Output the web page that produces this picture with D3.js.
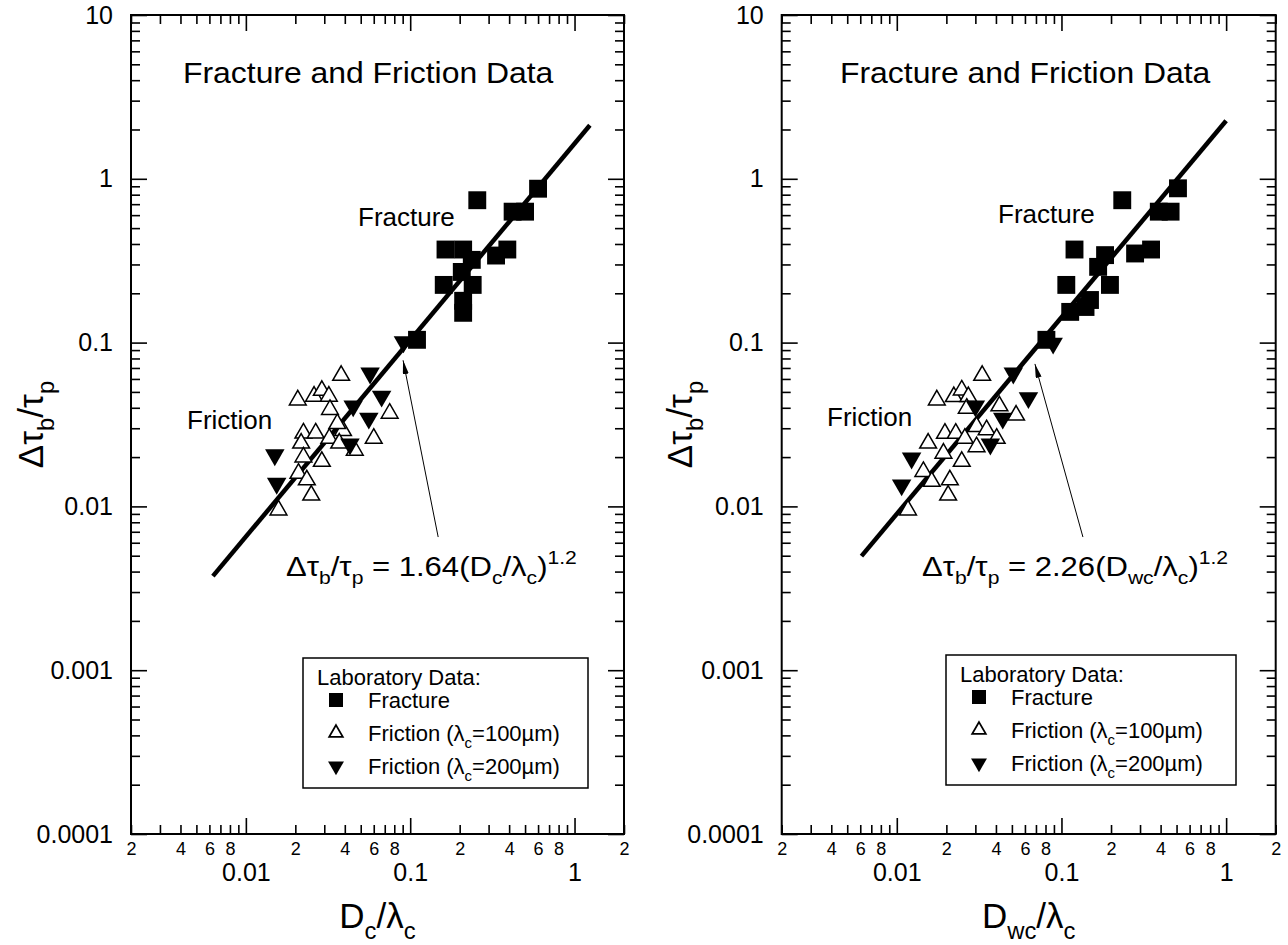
<!DOCTYPE html>
<html><head><meta charset="utf-8">
<script src="https://cdn.jsdelivr.net/npm/d3@7"></script>
<style>
body{margin:0;background:#fff}
svg text{font-family:"Liberation Sans",Arial,Helvetica,sans-serif;fill:#000}
</style></head><body>
<svg id="c" width="1288" height="945"></svg>
<script>
// ---------- data ----------
const xMajorTicks = [0.01, 0.1, 1];
const xMajorLabels = ["0.01", "0.1", "1"];
const xDecades = [0.001, 0.01, 0.1, 1];
const yDecades = [0.0001, 0.001, 0.01, 0.1, 1];
const minorDigits = [2, 3, 4, 5, 6, 7, 8, 9];
const minorLabelDigits = [2, 4, 6, 8];
const yMajorTicks = [0.0001, 0.001, 0.01, 0.1, 1, 10];
const yMajorLabels = ["0.0001", "0.001", "0.01", "0.1", "1", "10"];

// left panel (Dc/λc)
const leftFractureX = [0.60, 0.256, 0.42, 0.50, 0.164, 0.21, 0.237, 0.333, 0.39, 0.206, 0.16, 0.24, 0.21, 0.21, 0.11];
const leftFractureY = [0.87, 0.74, 0.63, 0.63, 0.37, 0.37, 0.32, 0.34, 0.37, 0.27, 0.225, 0.225, 0.18, 0.152, 0.104];
const leftFric100X = [0.038, 0.0207, 0.026, 0.029, 0.032, 0.0325, 0.075, 0.060, 0.0224, 0.0266, 0.0322, 0.039, 0.0217, 0.037, 0.046, 0.029, 0.0224, 0.0209, 0.0235, 0.025, 0.0158, 0.036];
const leftFric100Y = [0.063, 0.0446, 0.047, 0.051, 0.047, 0.039, 0.037, 0.026, 0.028, 0.028, 0.026, 0.029, 0.0243, 0.0243, 0.022, 0.0188, 0.020, 0.0159, 0.0145, 0.0117, 0.0095, 0.032];
const leftFric200X = [0.091, 0.057, 0.067, 0.045, 0.056, 0.043, 0.015, 0.0154];
const leftFric200Y = [0.101, 0.065, 0.047, 0.041, 0.0345, 0.024, 0.0206, 0.0138];
const leftFit = {coef: 1.64, exp: 1.2, from: 0.0063, to: 1.24};
const leftArrow = {tail: [0.148, 0.0065], tip: [0.0905, 0.078]};

// right panel (Dwc/λc)
const rightFractureX = [0.51, 0.234, 0.39, 0.46, 0.12, 0.184, 0.167, 0.28, 0.35, 0.107, 0.197, 0.149, 0.113, 0.14, 0.081];
const rightFractureY = [0.875, 0.74, 0.63, 0.63, 0.37, 0.342, 0.29, 0.35, 0.37, 0.225, 0.225, 0.182, 0.154, 0.165, 0.104];
const rightFric100X = [0.033, 0.0175, 0.0222, 0.0248, 0.0272, 0.0266, 0.042, 0.053, 0.0155, 0.0196, 0.0228, 0.0259, 0.0305, 0.0351, 0.0404, 0.0305, 0.0192, 0.0248, 0.0145, 0.0163, 0.021, 0.0205, 0.0117];
const rightFric100Y = [0.063, 0.0446, 0.0467, 0.0513, 0.0467, 0.0397, 0.041, 0.036, 0.0243, 0.0279, 0.0279, 0.026, 0.0307, 0.0293, 0.026, 0.0231, 0.0211, 0.0188, 0.0163, 0.0142, 0.0145, 0.0117, 0.0095];
const rightFric200X = [0.089, 0.051, 0.063, 0.030, 0.044, 0.037, 0.0123, 0.0107];
const rightFric200Y = [0.099, 0.065, 0.046, 0.041, 0.0345, 0.024, 0.0197, 0.0135];
const rightFit = {coef: 2.26, exp: 1.2, from: 0.0061, to: 1.0};
const rightArrow = {tail: [0.135, 0.0065], tip: [0.069, 0.0741]};

const titleText = "Fracture and Friction Data";
const legendTitle = "Laboratory Data:";

// ---------- drawing ----------
const svg = d3.select("#c");
const zip = (xs, ys) => xs.map((x, i) => [x, ys[i]]);

function rich(t, parts, fs) {
  let shift = 0;
  parts.forEach(([s, kind]) => {
    const target = kind === "sub" ? 0.3 * fs : kind === "sup" ? -0.45 * fs : 0;
    t.append("tspan").attr("dy", target - shift)
      .attr("font-size", kind === "n" ? fs : 0.68 * fs).text(s);
    shift = target;
  });
}

const xMinors = [];
xDecades.forEach(d => minorDigits.forEach(m => { const v = +(m * d).toPrecision(6); if (v >= 0.002 - 1e-9 && v <= 2 + 1e-9) xMinors.push(v); }));
const yMinors = [];
yDecades.forEach(d => minorDigits.forEach(m => yMinors.push(+(m * d).toPrecision(6))));

const panels = [
  {x0: 131, x1: 624, sub: "c", coefLabel: "1.64",
   frac: zip(leftFractureX, leftFractureY), f100: zip(leftFric100X, leftFric100Y), f200: zip(leftFric200X, leftFric200Y),
   fit: leftFit, arrow: leftArrow,
   yTitleX: 43, titleX: 183, fracLbl: [358, 226], fricLbl: [187, 429], eq: [286, 576],
   legend: {x: 303, y: 658, w: 285, h: 130}},
  {x0: 781.7, x1: 1275.7, sub: "wc", coefLabel: "2.26",
   frac: zip(rightFractureX, rightFractureY), f100: zip(rightFric100X, rightFric100Y), f200: zip(rightFric200X, rightFric200Y),
   fit: rightFit, arrow: rightArrow,
   yTitleX: 692, titleX: 840, fracLbl: [998, 223], fricLbl: [827, 426], eq: [922, 576],
   legend: {x: 946, y: 655, w: 290, h: 130}}
];
const plotTop = 15, plotBottom = 834;

const defs = svg.append("defs");
defs.append("marker").attr("id", "ah").attr("viewBox", "0 0 14 6")
  .attr("refX", 14).attr("refY", 3).attr("markerWidth", 14).attr("markerHeight", 6)
  .attr("markerUnits", "userSpaceOnUse").attr("orient", "auto")
  .append("path").attr("d", "M0,0L14,3L0,6Z").attr("fill", "#000");

panels.forEach(p => {
  const x = d3.scaleLog().domain([0.002, 2]).range([p.x0, p.x1]);
  const y = d3.scaleLog().domain([0.0001, 10]).range([plotBottom, plotTop]);
  const g = svg.append("g");

  function styleAxis(sel, fs) {
    sel.select(".domain").remove();
    sel.selectAll(".tick line").attr("stroke", "#000").attr("stroke-width", 1.6);
    sel.selectAll("text").attr("font-size", fs).attr("font-family", null).attr("fill", "#000");
  }
  // bottom
  g.append("g").attr("transform", `translate(0,${plotBottom})`)
    .call(d3.axisBottom(x).tickValues(xMinors).tickSizeInner(-9).tickSizeOuter(0).tickPadding(8)
      .tickFormat(d => { const m = Math.round(d / Math.pow(10, Math.floor(Math.log10(d) + 1e-9))); return minorLabelDigits.includes(m) ? String(m) : ""; }))
    .call(s => styleAxis(s, 18));
  g.append("g").attr("transform", `translate(0,${plotBottom})`)
    .call(d3.axisBottom(x).tickValues(xMajorTicks).tickSizeInner(-16).tickSizeOuter(0).tickPadding(29)
      .tickFormat((d, i) => xMajorLabels[i]))
    .call(s => styleAxis(s, 25));
  // top
  g.append("g").attr("transform", `translate(0,${plotTop})`)
    .call(d3.axisTop(x).tickValues(xMinors).tickSizeInner(-9).tickSizeOuter(0).tickFormat(""))
    .call(s => styleAxis(s, 10));
  g.append("g").attr("transform", `translate(0,${plotTop})`)
    .call(d3.axisTop(x).tickValues(xMajorTicks).tickSizeInner(-16).tickSizeOuter(0).tickFormat(""))
    .call(s => styleAxis(s, 10));
  // left
  g.append("g").attr("transform", `translate(${p.x0},0)`)
    .call(d3.axisLeft(y).tickValues(yMinors).tickSizeInner(-9).tickSizeOuter(0).tickFormat(""))
    .call(s => styleAxis(s, 10));
  g.append("g").attr("transform", `translate(${p.x0},0)`)
    .call(d3.axisLeft(y).tickValues(yMajorTicks).tickSizeInner(-16).tickSizeOuter(0).tickPadding(18)
      .tickFormat((d, i) => yMajorLabels[i]))
    .call(s => styleAxis(s, 25));
  // right
  g.append("g").attr("transform", `translate(${p.x1},0)`)
    .call(d3.axisRight(y).tickValues(yMinors).tickSizeInner(-9).tickSizeOuter(0).tickFormat(""))
    .call(s => styleAxis(s, 10));
  g.append("g").attr("transform", `translate(${p.x1},0)`)
    .call(d3.axisRight(y).tickValues(yMajorTicks).tickSizeInner(-16).tickSizeOuter(0).tickFormat(""))
    .call(s => styleAxis(s, 10));

  // frame
  g.append("rect").attr("x", p.x0).attr("y", plotTop).attr("width", p.x1 - p.x0).attr("height", plotBottom - plotTop)
    .attr("fill", "none").attr("stroke", "#000").attr("stroke-width", 2);

  // axis titles
  const xt = g.append("text").attr("x", (p.x0 + p.x1) / 2).attr("y", 928).attr("text-anchor", "middle").attr("font-size", 35);
  rich(xt, [["D", "n"], [p.sub, "sub"], ["/λ", "n"], ["c", "sub"]], 35);
  const yt = g.append("text").attr("transform", `translate(${p.yTitleX},${(plotTop + plotBottom) / 2}) rotate(-90)`)
    .attr("text-anchor", "middle").attr("font-size", 35);
  rich(yt, [["Δτ", "n"], ["b", "sub"], ["/τ", "n"], ["p", "sub"]], 35);

  // plot title & labels
  g.append("g").attr("transform", `translate(${p.titleX},83) scale(1.1,1)`)
    .append("text").attr("font-size", 29).text(titleText);
  g.append("text").attr("x", p.fracLbl[0]).attr("y", p.fracLbl[1]).attr("font-size", 26).text("Fracture");
  g.append("text").attr("x", p.fricLbl[0]).attr("y", p.fricLbl[1]).attr("font-size", 26).text("Friction");
  const eq = g.append("g").attr("transform", `translate(${p.eq[0]},${p.eq[1]}) scale(1.15,1)`)
    .append("text").attr("font-size", 27);
  rich(eq, [["Δτ", "n"], ["b", "sub"], ["/τ", "n"], ["p", "sub"], [" = " + p.coefLabel + "(D", "n"], [p.sub, "sub"], ["/λ", "n"], ["c", "sub"], [")", "n"], ["1.2", "sup"]], 27);

  // fit line
  const fitPts = [p.fit.from, p.fit.to].map(v => [v, p.fit.coef * Math.pow(v, p.fit.exp)]);
  g.append("path").attr("d", d3.line().x(d => x(d[0])).y(d => y(d[1]))(fitPts))
    .attr("stroke", "#000").attr("stroke-width", 4.5).attr("fill", "none");

  // markers
  const sq = d3.symbol().type(d3.symbolSquare).size(320);
  const up = d3.symbol().type(d3.symbolTriangle).size(122);
  const dn = d3.symbol().type(d3.symbolTriangle).size(165);
  g.selectAll(".f100").data(p.f100).join("path")
    .attr("transform", d => `translate(${x(d[0])},${y(d[1])})`).attr("d", up)
    .attr("fill", "#fff").attr("stroke", "#000").attr("stroke-width", 1.5);
  g.selectAll(".f200").data(p.f200).join("path")
    .attr("transform", d => `translate(${x(d[0])},${y(d[1])}) rotate(180)`).attr("d", dn).attr("fill", "#000");
  g.selectAll(".frac").data(p.frac).join("path")
    .attr("transform", d => `translate(${x(d[0])},${y(d[1])})`).attr("d", sq).attr("fill", "#000");

  // arrow
  g.append("line").attr("x1", x(p.arrow.tail[0])).attr("y1", y(p.arrow.tail[1]))
    .attr("x2", x(p.arrow.tip[0])).attr("y2", y(p.arrow.tip[1]))
    .attr("stroke", "#000").attr("stroke-width", 1).attr("marker-end", "url(#ah)");

  // legend
  const L = p.legend;
  const lg = g.append("g").attr("transform", `translate(${L.x},${L.y})`);
  lg.append("rect").attr("width", L.w).attr("height", L.h).attr("fill", "#fff").attr("stroke", "#000").attr("stroke-width", 1.5);
  lg.append("text").attr("x", 14).attr("y", 27).attr("font-size", 22).text(legendTitle);
  const rows = [
    {sym: d3.symbol().type(d3.symbolSquare).size(196)(), rot: 0, fill: "#000", label: [["Fracture", "n"]]},
    {sym: d3.symbol().type(d3.symbolTriangle).size(80)(), rot: 0, fill: "#fff", label: [["Friction (λ", "n"], ["c", "sub"], ["=100µm)", "n"]]},
    {sym: d3.symbol().type(d3.symbolTriangle).size(110)(), rot: 180, fill: "#000", label: [["Friction (λ", "n"], ["c", "sub"], ["=200µm)", "n"]]}
  ];
  rows.forEach((r, i) => {
    const yy = 50 + i * 33;
    lg.append("path").attr("d", r.sym).attr("transform", `translate(33,${yy - 8}) rotate(${r.rot})`)
      .attr("fill", r.fill).attr("stroke", "#000").attr("stroke-width", r.fill === "#fff" ? 1.8 : 0);
    const t = lg.append("text").attr("x", 65).attr("y", yy).attr("font-size", 22);
    rich(t, r.label, 22);
  });
});
</script>
</body></html>
